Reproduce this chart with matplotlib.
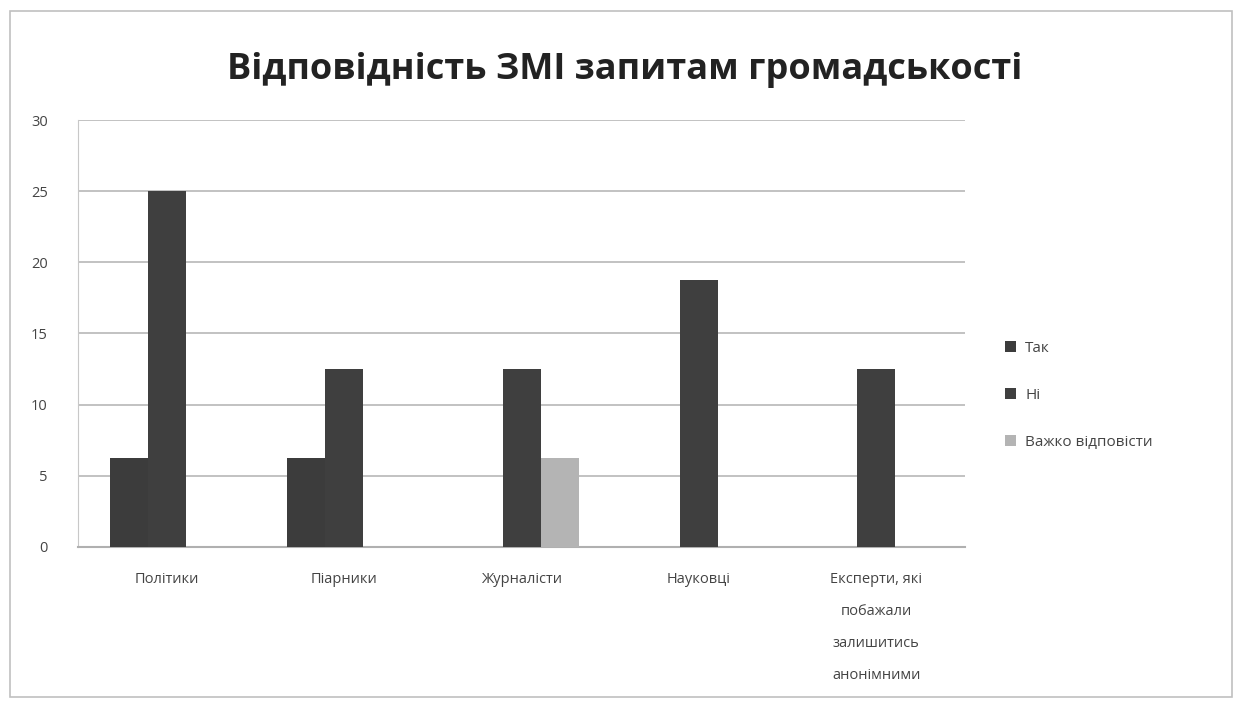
import matplotlib
matplotlib.use("Agg")
import matplotlib.pyplot as plt
import numpy as np
from matplotlib.patches import Rectangle

categories = ["Політики", "Піарники", "Журналісти", "Науковці",
              "Експерти, які\nпобажали\nзалишитись\nанонімними"]
series_names = ["Так", "Ні", "Важко відповісти"]
tak = [6.25, 6.25, 0, 0, 0]
ni = [25, 12.5, 12.5, 18.75, 12.5]
vazhko = [0, 0, 6.25, 0, 0]
yticks = [0, 5, 10, 15, 20, 25, 30]

colors = ["#3c3c3c", "#3f3f3f", "#b4b4b4"]

plt.rcParams['font.family'] = ['Open Sans', 'DejaVu Sans']

fig = plt.figure(figsize=(12.42, 7.02), dpi=100)
ax = fig.add_axes([0.063, 0.221, 0.714, 0.608])

x = np.arange(len(categories))
w = 0.215
for i, (vals, name) in enumerate(zip([tak, ni, vazhko], series_names)):
    ax.bar(x + (i - 1) * w, vals, width=w, color=colors[i], label=name, zorder=3)

ax.set_xlim(-0.5, len(categories) - 0.5)
ax.set_ylim(0, 30)
ax.set_yticks(yticks)
ax.set_yticklabels([str(t) for t in yticks], fontsize=10.5, color="#444444")
ax.set_xticks(x)
ax.set_xticklabels(categories, fontsize=10.5, color="#444444", linespacing=2.55, va="top")
ax.tick_params(axis='x', length=0, pad=18)
ax.tick_params(axis='y', length=0, pad=22)
ax.yaxis.grid(True, color="#b8b8b8", linewidth=1.2, zorder=0)
for s in ["top", "right"]:
    ax.spines[s].set_visible(False)
ax.spines["left"].set_color("#c8c8c8")
ax.spines["bottom"].set_color("#b0b0b0")
ax.spines["bottom"].set_linewidth(1.5)

fig.text(0.503, 0.9, "Відповідність ЗМІ запитам громадськості", ha="center", va="center",
         fontsize=26, fontweight="bold", color="#222222")

leg = ax.legend(loc="center left", bbox_to_anchor=(1.03, 0.355), frameon=False,
                fontsize=11, labelspacing=2.1, handlelength=0.7, handleheight=0.7,
                handletextpad=0.6, labelcolor="#444444")

fig.patches.append(Rectangle((0.008, 0.007), 0.984, 0.978, transform=fig.transFigure,
                             fill=False, edgecolor="#c0c0c0", linewidth=1.2))

fig.savefig("out.png", dpi=100, facecolor="white")
